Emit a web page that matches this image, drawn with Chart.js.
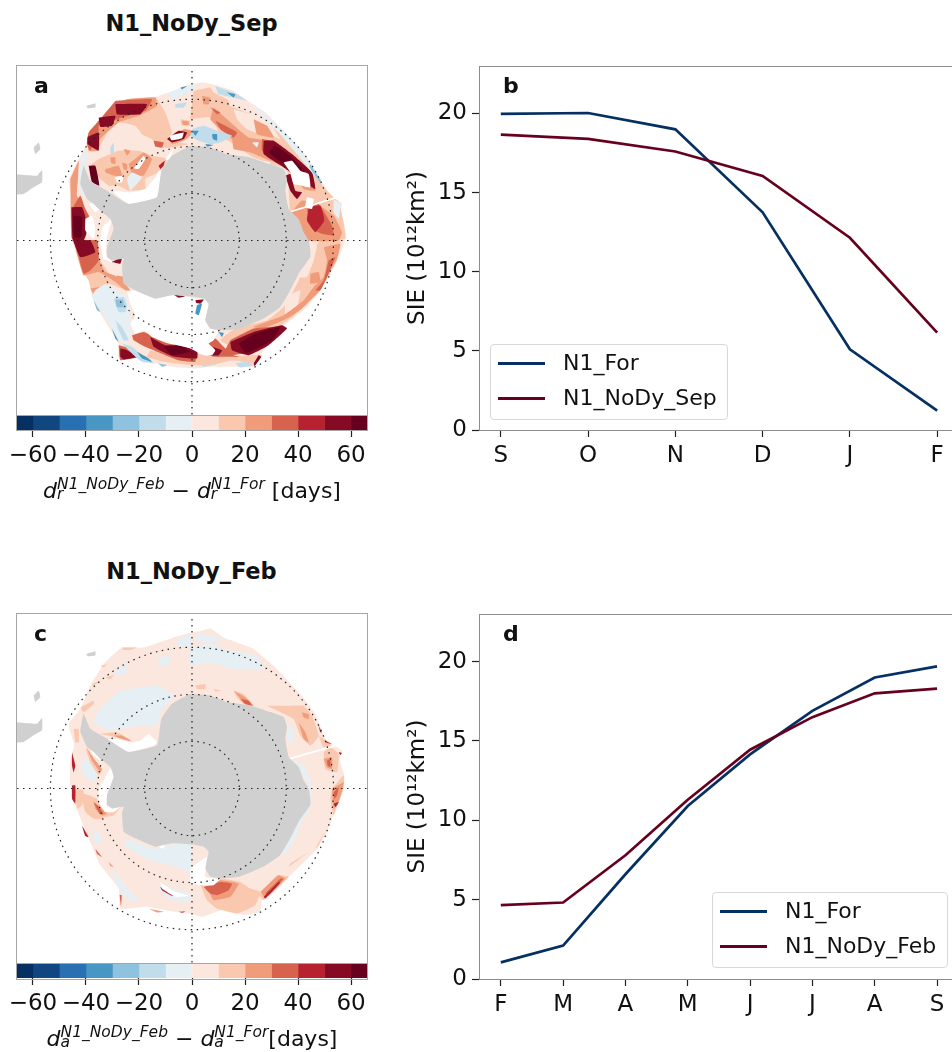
<!DOCTYPE html>
<html>
<head>
<meta charset="utf-8">
<script src="https://cdn.jsdelivr.net/npm/chart.js@4"></script>
<style>
  body { margin: 0; background: #fff; width: 952px; height: 1052px; overflow: hidden; position: relative;
         font-family: "DejaVu Sans", sans-serif; color: #111; }
  canvas { position: absolute; }
  #mapA, #mapC { filter: blur(0.5px); }
  .title { position: absolute; left: 16px; width: 351px; text-align: center; font-weight: bold; font-size: 22.5px; line-height: 24px; }
  .letter { position: absolute; font-weight: bold; font-size: 22px; line-height: 24px; }
  .frame { position: absolute; left: 16px; width: 350px; box-sizing: content-box; border: 1px solid #a6a6a6; pointer-events: none; }
  .mathlabel { position: absolute; left: 0; width: 384px; text-align: center; font-size: 22px; white-space: nowrap; line-height: 30px; }
  .mathlabel i { font-style: italic; }
  .ss { display: inline-block; position: relative; vertical-align: baseline; height: 1em; text-align: left; }
  .ss .up { font-size: 15.5px; position: relative; top: -9px; font-style: italic; }
  .ss .lo { font-size: 15.5px; position: absolute; left: 0; top: 11px; font-style: italic; line-height: 15px; }
  .legend { position: absolute; box-sizing: border-box; border: 1.5px solid #d8d8d8; border-radius: 4px; background: rgba(255,255,255,.85); font-size: 22px; }
  .legend div { position: absolute; left: 72px; white-space: nowrap; line-height: 26px; }
  .legend span { position: absolute; left: 7px; width: 47px; height: 3px; }
</style>
</head>
<body>
<div class="title" style="top:11px">N1_NoDy_Sep</div>
<div class="title" style="top:559px">N1_NoDy_Feb</div>

<canvas id="mapA" style="left:17px;top:66px"></canvas>
<canvas id="mapC" style="left:17px;top:614px"></canvas>
<canvas id="cbarA" style="left:0;top:415px"></canvas>
<canvas id="cbarC" style="left:0;top:963px"></canvas>
<canvas id="lineB" style="left:400px;top:55px"></canvas>
<canvas id="lineD" style="left:400px;top:603px"></canvas>

<div class="frame" style="top:65px;height:349px"></div>
<div class="frame" style="top:613px;height:349px"></div>
<div class="frame" style="top:415px;height:14px"></div>
<div class="frame" style="top:963px;height:15px"></div>

<div class="letter" style="left:34px;top:74px">a</div>
<div class="letter" style="left:503px;top:74px">b</div>
<div class="letter" style="left:34px;top:622px">c</div>
<div class="letter" style="left:503px;top:622px">d</div>

<div class="mathlabel" style="top:476px"><i>d</i><span class="ss"><span class="up">N1_NoDy_Feb</span><span class="lo">r</span></span> − <i>d</i><span class="ss"><span class="up">N1_For</span><span class="lo">r</span></span> [days]</div>
<div class="mathlabel" style="top:1024px"><i>d</i><span class="ss"><span class="up">N1_NoDy_Feb</span><span class="lo">a</span></span> − <i>d</i><span class="ss"><span class="up">N1_For</span><span class="lo">a</span></span>[days]</div>

<div id="legendB" class="legend" style="left:490px;top:344px;width:238px;height:76px"></div>
<div id="legendD" class="legend" style="left:712px;top:892px;width:236px;height:76px"></div>

<script>
// SIE curves
const monthsB = ["S", "O", "N", "D", "J", "F"];
const forB = [19.97, 20.03, 19.0, 13.75, 5.1, 1.22];
const noDySep = [18.67, 18.4, 17.6, 16.05, 12.15, 6.15];
const monthsD = ["F", "M", "A", "M", "J", "J", "A", "S"];
const forD = [1.05, 2.1, 6.6, 10.9, 14.15, 16.9, 19.0, 19.7];
const noDyFeb = [4.65, 4.82, 7.8, 11.3, 14.45, 16.5, 18.0, 18.3];
const sieTicks = [0, 5, 10, 15, 20];

// colorbar
const levelEdges = [-66, -60, -50, -40, -30, -20, -10, 0, 10, 20, 30, 40, 50, 60, 66];
const levelColors = ["#053061", "#114781", "#2870b1", "#4896c4", "#8fc2de", "#c1ddec", "#e6eff4",
                     "#fbe7dd", "#fac8af", "#f09c7b", "#d7634f", "#b72230", "#870a24", "#67001f"];
const cbarTicks = [-60, -40, -20, 0, 20, 40, 60];

const NAVY = "#053061", MAROON = "#67001f";

// map coordinates are projected units, pole at (575, 570), lat circles below
const latCircles = [142, 283, 425];

const continent = [[570,285],[630,290],[680,310],[750,320],[810,340],[850,355],[860,385],[855,420],[865,475],[895,505],[910,545],[925,570],[930,600],[930,620],[895,670],[870,720],[840,770],[790,805],[720,835],[680,840],[655,840],[630,835],[615,810],[625,760],[610,745],[585,740],[515,735],[465,745],[405,720],[370,700],[365,645],[370,625],[335,630],[320,620],[320,590],[340,535],[330,505],[295,475],[280,460],[260,445],[240,400],[243,375],[250,345],[270,390],[320,420],[385,460],[470,440],[483,360],[515,315]];
const southAmerica = [[40,370],[110,375],[125,358],[125,395],[100,410],[70,430],[40,430]];
const islandA = [[100,290],[115,275],[120,295],[105,310]];
const islandB = [[258,165],[285,158],[285,170],[262,172]];

// panel a, September ice retreat difference, one list per colour level
const sepEdge = [[570,100],[610,95],[655,105],[700,120],[750,155],[795,185],[850,240],[890,285],[930,335],[970,400],[990,435],[1015,450],[1025,460],[1020,485],[1035,545],[1033,575],[1015,620],[990,670],[950,735],[910,780],[840,835],[780,915],[760,950],[710,950],[630,950],[585,955],[485,945],[405,920],[355,920],[355,880],[315,815],[280,750],[265,690],[235,620],[215,570],[210,495],[215,445],[205,390],[235,325],[250,300],[265,255],[295,210],[345,165],[380,145],[455,140],[505,125],[555,105]];
const sepL8 = [[[260,265],[295,210],[345,165],[380,145],[465,140],[495,185],[515,245],[505,270],[565,280],[515,290],[475,290],[455,265],[425,250],[405,225],[355,215],[325,240],[290,300],[265,300]],[[295,325],[355,300],[415,300],[455,315],[505,325],[475,365],[435,385],[435,415],[385,420],[355,405],[325,405],[295,380],[270,345]],[[540,205],[570,210],[570,225],[545,225]],[[580,120],[630,110],[640,125],[700,155],[770,185],[840,250],[900,295],[950,385],[990,430],[1015,455],[1030,515],[1035,565],[910,565],[870,485],[860,355],[810,340],[750,315],[700,280],[660,255],[610,205],[570,215]],[[930,610],[960,570],[1020,570],[1010,630],[970,700],[920,760],[870,805],[790,860],[700,890],[660,870],[705,835],[800,810],[850,770],[880,720],[910,660]],[[450,900],[520,915],[585,910],[640,920],[760,915],[785,915],[760,940],[700,930],[630,945],[570,945],[490,935],[440,920]],[[265,690],[295,680],[355,680],[380,720],[325,700],[310,720],[295,760],[280,745]],[[225,600],[290,620],[325,670],[265,690]]];
const sepL7 = [[[570,205],[630,200],[660,255],[610,240],[570,225]],[[700,175],[760,195],[770,245],[740,235],[710,205]],[[680,135],[750,165],[800,205],[840,265],[800,245],[740,185],[690,165]],[[925,585],[950,585],[940,630],[920,680],[895,680],[915,640]],[[855,740],[900,720],[890,770],[855,795]]];
const sepL9 = [[[295,210],[345,165],[380,145],[465,140],[470,165],[415,195],[355,215],[325,240],[290,275],[290,300],[265,300],[260,265]],[[315,355],[355,345],[365,375],[340,375],[315,365]],[[330,320],[345,320],[345,340],[333,337]],[[365,335],[380,340],[380,360],[370,355]],[[370,295],[390,300],[380,315]],[[385,340],[430,305],[455,325],[430,375],[395,370]],[[505,265],[550,235],[575,240],[575,250],[550,270],[515,280]],[[545,210],[565,212],[565,222],[548,222]],[[640,170],[680,205],[745,260],[805,270],[870,315],[930,365],[945,420],[910,415],[860,345],[810,330],[750,305],[700,295],[695,265],[660,235],[630,205]],[[760,205],[800,225],[820,260],[770,250]],[[605,135],[630,140],[625,160],[610,160]],[[865,495],[905,450],[950,460],[1000,495],[1025,545],[1015,570],[920,570],[900,525]],[[970,590],[1020,580],[1010,625],[985,670],[960,720],[905,775],[860,805],[790,835],[760,830],[850,795],[910,750],[940,710],[970,680],[980,630]],[[930,670],[955,665],[960,695],[930,700]],[[210,385],[235,330],[235,365],[230,435],[255,475],[270,505],[255,505],[250,565],[215,565]],[[220,570],[290,570],[295,625],[315,665],[355,680],[390,720],[375,720],[345,695],[295,665],[250,675],[235,630]],[[270,715],[300,710],[315,730],[285,735]],[[350,675],[375,680],[380,720],[355,700]]];
const sepL10 = [[[345,150],[455,145],[435,180],[365,200],[295,225],[295,240],[270,300],[260,280],[265,245],[295,210]],[[460,270],[490,275],[485,290],[465,287]],[[645,210],[675,225],[710,245],[700,260],[660,235]],[[630,170],[660,185],[650,190]],[[785,265],[810,270],[870,315],[930,365],[945,415],[920,405],[850,345],[785,300]],[[920,475],[955,460],[995,525],[1000,555],[965,550],[935,535]],[[985,630],[1005,620],[985,670],[960,720],[945,720],[970,690]],[[690,870],[760,835],[830,830],[810,850],[750,900],[700,915],[675,900]],[[620,870],[645,865],[670,890],[700,915],[720,920],[670,920],[645,920],[625,915]],[[220,570],[290,570],[295,630],[270,660],[250,670],[235,620]],[[215,475],[240,435],[255,475],[270,505],[255,505],[250,565],[215,565]],[[395,855],[430,845],[465,860],[585,890],[585,935],[535,930],[495,915],[435,890],[400,870]],[[355,885],[390,895],[415,920],[360,930]]];
const sepL11 = [[[925,470],[960,465],[972,510],[945,545],[920,510]],[[475,345],[493,330],[490,345],[480,355]]];
const sepL12 = [[[345,160],[440,160],[420,190],[350,190]],[[295,200],[345,195],[335,225],[300,228]],[[262,258],[295,245],[295,300],[262,280]],[[500,265],[535,240],[560,245],[550,265],[515,275]],[[790,270],[820,270],[875,310],[935,365],[945,415],[915,395],[850,350],[790,310]],[[855,375],[870,370],[885,420],[905,425],[890,445],[870,420]],[[910,570],[925,570],[920,600],[910,595]],[[213,470],[245,470],[258,510],[258,550],[250,570],[218,570]],[[218,570],[270,570],[285,605],[240,620]],[[450,860],[495,885],[540,885],[590,897],[590,925],[515,918],[460,890]],[[690,875],[760,845],[845,825],[860,835],[805,885],[745,915],[695,900]],[[630,888],[665,900],[655,915],[630,915]],[[360,895],[380,900],[413,920],[370,928],[360,920]],[[775,915],[783,920],[763,948],[760,940]],[[335,635],[365,620],[360,640]],[[395,802],[420,810],[410,810]]];
const sepL13 = [[[265,345],[285,345],[297,405],[275,395]],[[805,305],[825,285],[875,320],[915,365],[850,340]],[[218,495],[245,500],[243,560],[222,560]],[[715,880],[765,850],[840,830],[815,870],[760,900],[735,908]],[[490,890],[540,885],[570,905],[515,915]]];
const sepL6 = [[[505,125],[585,100],[585,115],[515,145]],[[395,365],[425,380],[390,420],[380,385]],[[250,300],[265,310],[255,335],[240,340]],[[760,160],[850,240],[900,295],[965,390],[955,390],[890,310],[835,245],[765,175]],[[1000,445],[1020,460],[1015,505],[1000,485]],[[755,275],[775,275],[770,290]],[[315,700],[340,715],[380,740],[390,795],[390,860],[380,880],[355,870],[315,800],[275,740],[285,720]],[[235,345],[250,335],[270,415],[255,445],[235,405]]];
const sepL5 = [[[525,160],[560,155],[550,170],[525,170]],[[330,290],[340,275],[340,310],[330,305]],[[645,105],[700,125],[740,150],[700,140],[655,130]],[[575,235],[610,225],[650,240],[695,255],[660,275],[630,280],[595,270],[570,255]],[[705,940],[735,935],[760,945],[720,952]],[[345,810],[365,830],[385,870],[370,870],[355,840]],[[340,745],[370,740],[380,765],[375,785],[355,785]],[[365,880],[395,890],[425,915],[465,940],[425,935],[405,920]],[[600,945],[650,942],[610,950]]];
const sepL4 = [[[345,748],[368,748],[370,770],[350,770]],[[475,940],[500,945],[485,950]],[[930,340],[965,395],[958,395],[928,350]],[[280,750],[300,785],[290,780]]];
const sepL3 = [[[410,905],[445,925],[455,935],[425,925]],[[680,125],[705,130],[700,140]],[[575,240],[595,240],[585,255]],[[635,250],[650,250],[650,270],[638,265]],[[615,280],[640,283],[620,288]],[[540,110],[560,105],[545,115]],[[335,835],[355,875],[345,865]]];
const sepHoles = [[[507,255],[550,245],[545,262],[513,268]],[[400,353],[430,315],[435,325],[415,355]],[[343,380],[370,375],[365,395],[350,395]],[[495,325],[520,293],[510,320],[500,330]],[[345,420],[390,425],[435,415],[465,380],[475,360],[485,360],[470,440],[385,460],[340,425]],[[850,335],[875,330],[900,360],[925,370],[930,410],[905,405],[880,400],[870,365]],[[750,323],[810,335],[805,343],[760,337]],[[920,440],[940,445],[935,475],[915,470]],[[265,460],[300,455],[305,470],[285,485]],[[255,505],[275,495],[285,535],[280,565],[255,540]],[[305,530],[335,505],[320,560],[318,610],[335,635],[310,625],[300,575]],[[380,725],[400,720],[465,745],[520,732],[585,745],[610,745],[625,760],[615,810],[630,835],[655,840],[640,870],[625,880],[645,900],[635,915],[610,915],[570,895],[545,888],[505,880],[455,860],[430,840],[405,850],[390,820],[405,795],[390,760]]];
const sepOnShelfL12 = [[[585,750],[610,748],[600,760],[588,758]],[[520,733],[555,738],[535,742]]];
const sepOnShelfL4 = [[[590,765],[605,760],[595,795],[585,790]],[[655,845],[670,848],[665,860]]];
const sepSeam = [[865,485],[1010,440]];

// panel c, February ice advance difference
const febEdge = [[570,101],[600,96],[630,89],[670,116],[760,151],[830,211],[900,286],[945,346],[975,421],[1025,456],[1018,481],[1032,531],[1030,571],[1010,621],[980,701],[950,751],[860,841],[785,906],[780,941],[730,951],[680,931],[605,956],[570,946],[520,941],[440,926],[360,931],[355,871],[300,801],[270,731],[225,621],[210,561],[210,481],[222,441],[205,376],[240,331],[270,261],[310,196],[365,146],[430,146],[520,116]];
const febL6 = [[[330,301],[360,276],[470,261],[520,291],[480,341],[470,381],[410,381],[330,396],[280,371],[300,331]],[[335,221],[385,191],[370,231]],[[470,181],[510,166],[505,196],[480,201]],[[530,121],[575,106],[575,146],[535,141]],[[240,481],[280,491],[295,521],[275,551],[250,531]],[[380,721],[460,751],[570,731],[575,821],[510,801],[440,781],[370,741]],[[330,801],[365,851],[420,911],[380,901],[350,861]],[[280,691],[305,721],[295,741],[280,721]],[[470,861],[560,881],[575,911],[500,901]],[[570,151],[630,131],[670,151],[770,171],[790,211],[700,211],[630,191],[570,201]],[[590,101],[670,121],[630,131],[590,126]],[[870,481],[910,501],[935,561],[930,631],[905,671],[880,731],[850,771],[840,751],[870,711],[895,661],[915,621],[925,561],[895,511]],[[860,381],[880,391],[875,441],[865,431]]];
const febL8 = [[[700,276],[730,286],[760,321],[730,316],[710,296]],[[800,321],[860,321],[910,321],[935,351],[955,411],[930,441],[900,411],[880,361]],[[970,461],[990,446],[1015,466],[1010,521],[975,511]],[[995,571],[1030,531],[1030,571],[1015,611],[1000,651],[990,601]],[[955,411],[980,426],[995,446],[970,446]],[[600,861],[660,841],[720,851],[750,871],[780,881],[765,921],[710,946],[650,931],[620,906]],[[775,891],[830,831],[865,836],[790,906]],[[585,261],[615,256],[615,271],[590,271]],[[640,271],[660,276],[645,278]],[[865,806],[925,761],[870,796]],[[945,751],[975,696],[955,741]],[[300,406],[350,401],[395,426],[350,416]],[[365,146],[410,146],[390,153],[370,153]],[[300,201],[320,196],[310,206]],[[315,236],[340,229],[330,241]],[[275,256],[300,246],[280,261]],[[240,326],[280,306],[280,316],[250,341]],[[220,391],[235,391],[235,431],[225,431]],[[225,571],[250,576],[245,621],[230,631]],[[240,581],[290,601],[310,661],[280,661],[255,641]],[[255,446],[280,481],[305,516],[295,531],[270,491]],[[275,606],[295,611],[320,641],[360,626],[340,651],[305,656],[285,636]]];
const febL9 = [[[700,276],[735,296],[760,321],[735,316]],[[895,371],[915,401],[925,431],[910,421]],[[905,341],[925,346],[925,361],[910,356]],[[970,481],[995,476],[995,511],[980,506]],[[995,571],[1030,551],[1015,611],[1000,631]],[[620,866],[660,846],[715,856],[690,896],[640,906]],[[780,881],[835,831],[855,841],[795,901]],[[340,411],[365,411],[395,429],[365,421]],[[258,446],[285,486],[305,511],[300,521],[275,486]],[[280,611],[295,621],[320,646],[305,651],[285,631]],[[325,791],[340,806],[330,803]],[[445,931],[490,941],[470,943]]];
const febL10 = [[[610,866],[660,851],[695,856],[685,876],[650,891],[630,886]],[[720,301],[745,306],[755,321],[735,316]],[[980,486],[990,481],[990,506],[982,501]],[[1000,581],[1015,566],[1010,591],[1002,601]],[[795,886],[840,841],[850,841],[805,891]],[[280,611],[292,621],[310,646],[298,646]],[[285,751],[305,776],[290,766]],[[358,891],[364,891],[362,925]]];
const febL11 = [[[790,896],[835,851],[840,853],[795,901]],[[975,426],[995,436],[980,433]],[[1015,461],[1025,463],[1020,469]],[[955,381],[965,401],[960,401]],[[1000,616],[1015,611],[1005,626]],[[245,681],[265,716],[255,713]],[[215,461],[225,501],[220,521],[215,501]],[[215,561],[225,561],[225,616],[215,601]],[[535,941],[555,940],[545,944]],[[480,866],[525,891],[515,893],[485,876]]];
const febHoles = [[[315,421],[350,421],[395,431],[420,426],[445,406],[470,431],[460,441],[385,461],[330,431]],[[270,451],[290,466],[300,486],[280,471]],[[310,546],[335,501],[340,531],[330,571],[320,601],[320,621],[345,626],[365,621],[340,641],[315,641],[295,611],[295,571]],[[570,811],[595,791],[620,776],[615,836],[660,841],[640,861],[600,861],[570,851]],[[480,851],[525,881],[565,893],[525,896],[485,871]],[[475,746],[495,736],[490,751]],[[750,326],[810,343],[805,346],[755,336]]];
const febSeam = [[867,481],[1005,441]];

// one filled polygon as a scatter dataset
function poly(points, color, tension) {
    return {
        data: points.map(p => ({ x: p[0], y: p[1] })),
        showLine: true,
        fill: "shape",
        backgroundColor: color,
        borderColor: "transparent",
        borderWidth: 0,
        pointRadius: 0,
        tension: tension
    };
}

function closed(points) {
    return points.concat([points[0]]);
}

function layer(polys, color) {
    return polys.map(p => poly(closed(p), color, 0.12));
}

function dotted(pts) {
    return { data: pts, showLine: true, borderColor: "#222", borderWidth: 1.2, borderDash: [1.5, 4.5], pointRadius: 0, fill: false };
}

function graticule() {
    let sets = [];
    latCircles.forEach(r => {
        let pts = [];
        for (let a = 0; a <= 360; a += 4) {
            pts.push({ x: 575 + r * Math.cos(a * Math.PI / 180), y: 570 + r * Math.sin(a * Math.PI / 180) });
        }
        sets.push(dotted(pts));
    });
    sets.push(dotted([{ x: 50, y: 570 }, { x: 1100, y: 570 }]));
    sets.push(dotted([{ x: 575, y: 60 }, { x: 575, y: 1095 }]));
    return sets;
}

function land() {
    return [poly(closed(continent), "#d0d0d0", 0.1)]
        .concat(layer([southAmerica, islandA, islandB], "#d0d0d0"));
}

function seam(points) {
    return { data: points.map(p => ({ x: p[0], y: p[1] })), showLine: true, borderColor: "#fff", borderWidth: 1.8, pointRadius: 0, fill: false };
}

function makeMap(id, bottomFirst) {
    const cv = document.getElementById(id);
    cv.width = 350;
    cv.height = 349;
    // chart.js paints the first dataset on top, so flip the list
    new Chart(cv, {
        type: "scatter",
        data: { datasets: bottomFirst.concat(land(), graticule()).reverse() },
        options: {
            responsive: false,
            animation: false,
            events: [],
            layout: { padding: 0 },
            plugins: { legend: { display: false }, tooltip: { enabled: false } },
            scales: {
                x: { display: false, min: 50, max: 1100 },
                y: { display: false, min: 45, max: 1095, reverse: true }
            }
        }
    });
}

function makeColorbar(id) {
    const cv = document.getElementById(id);
    cv.width = 384;
    cv.height = 60;
    let sets = levelColors.map((c, i) => ({
        data: [[levelEdges[i], levelEdges[i + 1]]],
        backgroundColor: c,
        barPercentage: 1,
        categoryPercentage: 1,
        grouped: false
    }));
    new Chart(cv, {
        type: "bar",
        data: { labels: ["days"], datasets: sets },
        options: {
            indexAxis: "y",
            responsive: false,
            animation: false,
            events: [],
            layout: { padding: { left: 17, right: 17 } },
            plugins: { legend: { display: false }, tooltip: { enabled: false } },
            scales: {
                y: { display: false },
                x: {
                    min: -66,
                    max: 66,
                    afterBuildTicks: s => { s.ticks = cbarTicks.map(v => ({ value: v })); },
                    afterFit: s => { s.height = 45; s.paddingLeft = 0; s.paddingRight = 0; },
                    border: { display: false },
                    grid: { drawOnChartArea: false, tickLength: 7, tickColor: "#222", tickWidth: 1.2 },
                    ticks: {
                        autoSkip: false,
                        maxRotation: 0,
                        color: "#111",
                        padding: 5,
                        font: { family: "DejaVu Sans", size: 23 },
                        callback: v => String(v).replace("-", "\u2212")
                    }
                }
            }
        }
    });
}

const topSpine = {
    id: "topSpine",
    afterDatasetsDraw(chart) {
        const { ctx, chartArea } = chart;
        ctx.save();
        ctx.strokeStyle = "#8c8c8c";
        ctx.lineWidth = 1;
        ctx.beginPath();
        ctx.moveTo(chartArea.left, chartArea.top + 0.5);
        ctx.lineTo(chartArea.right, chartArea.top + 0.5);
        ctx.stroke();
        ctx.restore();
    }
};

function makeLines(id, months, names, series, xMin, xMax, h) {
    const cv = document.getElementById(id);
    cv.width = 552;
    cv.height = h;
    new Chart(cv, {
        type: "scatter",
        data: {
            datasets: series.map((s, k) => ({
                label: names[k],
                data: s.map((v, i) => ({ x: i, y: v })),
                showLine: true,
                borderColor: k === 0 ? NAVY : MAROON,
                borderWidth: 2.7,
                pointRadius: 0,
                tension: 0,
                clip: false
            })).reverse()
        },
        options: {
            responsive: false,
            animation: false,
            events: [],
            layout: { padding: { top: 11 } },
            plugins: { legend: { display: false }, tooltip: { enabled: false } },
            scales: {
                x: {
                    min: xMin,
                    max: xMax,
                    afterBuildTicks: s => { s.ticks = months.map((m, i) => ({ value: i })); },
                    afterFit: s => { s.height = 50; s.paddingLeft = 0; s.paddingRight = 0; },
                    border: { color: "#8c8c8c" },
                    grid: { drawOnChartArea: false, tickLength: 7, tickColor: "#222", tickWidth: 1.2 },
                    ticks: {
                        autoSkip: false,
                        maxRotation: 0,
                        color: "#111",
                        padding: 5,
                        font: { family: "DejaVu Sans", size: 23 },
                        callback: v => months[v]
                    }
                },
                y: {
                    min: 0,
                    max: 23,
                    afterBuildTicks: s => { s.ticks = sieTicks.map(v => ({ value: v })); },
                    afterFit: s => { s.width = 79; s.paddingTop = 0; s.paddingBottom = 0; },
                    border: { color: "#8c8c8c" },
                    grid: { drawOnChartArea: false, tickLength: 7, tickColor: "#222", tickWidth: 1.2 },
                    title: {
                        display: true,
                        text: "SIE (10\u00b9\u00b2km\u00b2)",
                        color: "#111",
                        font: { family: "DejaVu Sans", size: 23 }
                    },
                    ticks: { color: "#111", padding: 5, font: { family: "DejaVu Sans", size: 23 } }
                }
            }
        },
        plugins: [topSpine]
    });
}

function makeLegend(id, names) {
    const box = document.getElementById(id);
    names.forEach((n, k) => {
        let sw = document.createElement("span");
        sw.style.top = (17 + k * 34.5) + "px";
        sw.style.background = k === 0 ? NAVY : MAROON;
        let tx = document.createElement("div");
        tx.style.top = (5 + k * 34.5) + "px";
        tx.textContent = n;
        box.appendChild(sw);
        box.appendChild(tx);
    });
}

window.onload = () => {
    makeMap("mapA", [poly(closed(sepEdge), levelColors[7], 0.15)].concat(
        layer(sepL8, levelColors[8]), layer(sepL7, levelColors[7]),
        layer(sepL9, levelColors[9]), layer(sepL10, levelColors[10]),
        layer(sepL11, levelColors[11]), layer(sepL12, levelColors[12]),
        layer(sepL13, levelColors[13]), layer(sepL6, levelColors[6]),
        layer(sepL5, levelColors[5]), layer(sepL4, levelColors[4]),
        layer(sepL3, levelColors[3]), layer(sepHoles, "#fff"),
        layer(sepOnShelfL12, levelColors[12]), layer(sepOnShelfL4, levelColors[3]),
        [seam(sepSeam)]
    ));
    makeMap("mapC", [poly(closed(febEdge), levelColors[7], 0.15)].concat(
        layer(febL6, levelColors[6]), layer(febL8, levelColors[8]),
        layer(febL9, levelColors[9]), layer(febL10, levelColors[10]),
        layer(febL11, levelColors[11]), layer(febHoles, "#fff"),
        [seam(febSeam)]
    ));
    makeColorbar("cbarA");
    makeColorbar("cbarC");
    makeLines("lineB", monthsB, ["N1_For", "N1_NoDy_Sep"], [forB, noDySep], -0.25, 5.17, 425);
    makeLines("lineD", monthsD, ["N1_For", "N1_NoDy_Feb"], [forD, noDyFeb], -0.35, 7.24, 426);
    makeLegend("legendB", ["N1_For", "N1_NoDy_Sep"]);
    makeLegend("legendD", ["N1_For", "N1_NoDy_Feb"]);
};
</script>
</body>
</html>
